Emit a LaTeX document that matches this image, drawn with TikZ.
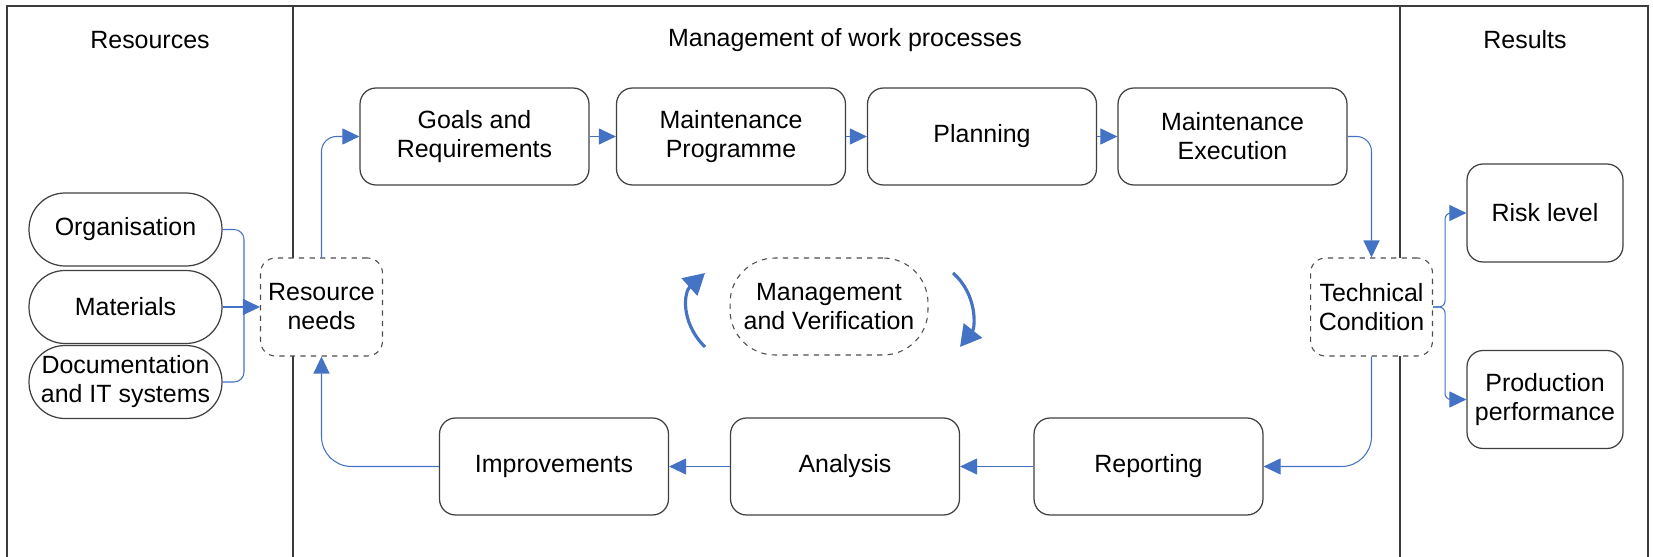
\documentclass[tikz,border=0pt]{standalone}
\usepackage{fontspec}
\setmainfont{Liberation Sans}
\usetikzlibrary{arrows.meta}

\definecolor{flowblue}{RGB}{68,114,196}
\definecolor{framegray}{RGB}{60,60,60}

\tikzset{
	box/.style={draw=black!75,line width=0.7pt,rounded corners=0.32cm,minimum width=4.58cm,minimum height=1.94cm,align=center,inner sep=0pt},
	result/.style={box,minimum width=3.12cm,minimum height=1.96cm},
	pill/.style={draw=black!75,line width=0.7pt,rounded corners=0.72cm,minimum width=3.86cm,minimum height=1.46cm,align=center,inner sep=0pt},
	hub/.style={draw=black!70,fill=white,dashed,line width=0.6pt,rounded corners=0.3cm,minimum width=2.44cm,minimum height=1.96cm,align=center,inner sep=0pt},
	flow/.style={draw=flowblue,line width=0.6pt,-{Triangle[length=0.34cm,width=0.32cm]}},
	feed/.style={draw=flowblue,line width=0.6pt},
	turn/.style={draw=flowblue,line width=1.8pt,-{Triangle[length=0.42cm,width=0.46cm]}},
}

\begin{document}
\begin{tikzpicture}[x=0.02cm,y=-0.02cm,font=\fontsize{14.2}{16.5}\selectfont]
	\useasboundingbox (0,0) rectangle (1653,557);

	%Frame and columns
	\draw[framegray,line width=1pt] (7,557)--(7,6)--(1648,6)--(1648,557);
	\draw[framegray,line width=1pt] (293,6)--(293,557);
	\draw[framegray,line width=1pt] (1400,6)--(1400,557);
	\node[] at (150,40) (hres) {Resources};
	\node[] at (845,40) (hmgmt) {Management of work processes};
	\node[] at (1525,40) (hout) {Results};

	%Resources
	\node[pill] at (125.5,229.5) (org) {Organisation};
	\node[pill] at (125.5,307) (mat) {Materials};
	\node[pill] at (125.5,382) (doc) {Documentation\\and IT systems};
	\node[hub] at (321.5,307) (res) {Resource\\needs};
	\coordinate (bus) at (244,307);
	\draw[feed,rounded corners=0.2cm] (org.east) -| (bus);
	\draw[feed,rounded corners=0.2cm] (doc.east) -| (bus);
	\draw[flow] (mat.east) -- (res.west);

	%Top row
	\node[box] at (474.5,136.5) (goals) {Goals and\\Requirements};
	\node[box] at (731,136.5) (prog) {Maintenance\\Programme};
	\node[box] at (982,136.5) (plan) {Planning};
	\node[box] at (1232.5,136.5) (exec) {Maintenance\\Execution};
	\draw[flow,rounded corners=0.3cm] (res.north) |- (goals.west);
	\draw[flow] (goals) -- (prog);
	\draw[flow] (prog) -- (plan);
	\draw[flow] (plan) -- (exec);

	%Technical condition
	\node[hub] at (1371.5,307) (tc) {Technical\\Condition};
	\draw[flow,rounded corners=0.3cm] (exec.east) -| (tc.north);

	%Bottom row
	\node[box] at (1148.5,466.5) (rep) {Reporting};
	\node[box] at (845,466.5) (ana) {Analysis};
	\node[box] at (554,466.5) (imp) {Improvements};
	\draw[flow,rounded corners=0.6cm] (tc.south) |- (rep.east);
	\draw[flow] (rep) -- (ana);
	\draw[flow] (ana) -- (imp);
	\draw[flow,rounded corners=0.6cm] (imp.west) -| (res.south);

	%Management loop
	\node[hub,rounded corners=0.9cm,minimum width=3.96cm,minimum height=1.94cm] at (829,306.5) (mv) {Management\\and Verification};
	\coordinate (la) at (705,347);
	\coordinate (lb) at (705,273);
	\coordinate (ra) at (953,273);
	\coordinate (rb) at (960,347);
	\draw[turn] (la) .. controls (680,322) and (684,292) .. (lb);
	\draw[turn] (ra) .. controls (978,295) and (975,328) .. (rb);

	%Results
	\node[result] at (1545,213) (risk) {Risk level};
	\node[result] at (1545,399.5) (perf) {Production\\performance};
	\draw[flow,rounded corners=0.12cm] (tc.east) -- ++(12,0) |- (risk.west);
	\draw[flow,rounded corners=0.12cm] (tc.east) -- ++(12,0) |- (perf.west);

\end{tikzpicture}
\end{document}
